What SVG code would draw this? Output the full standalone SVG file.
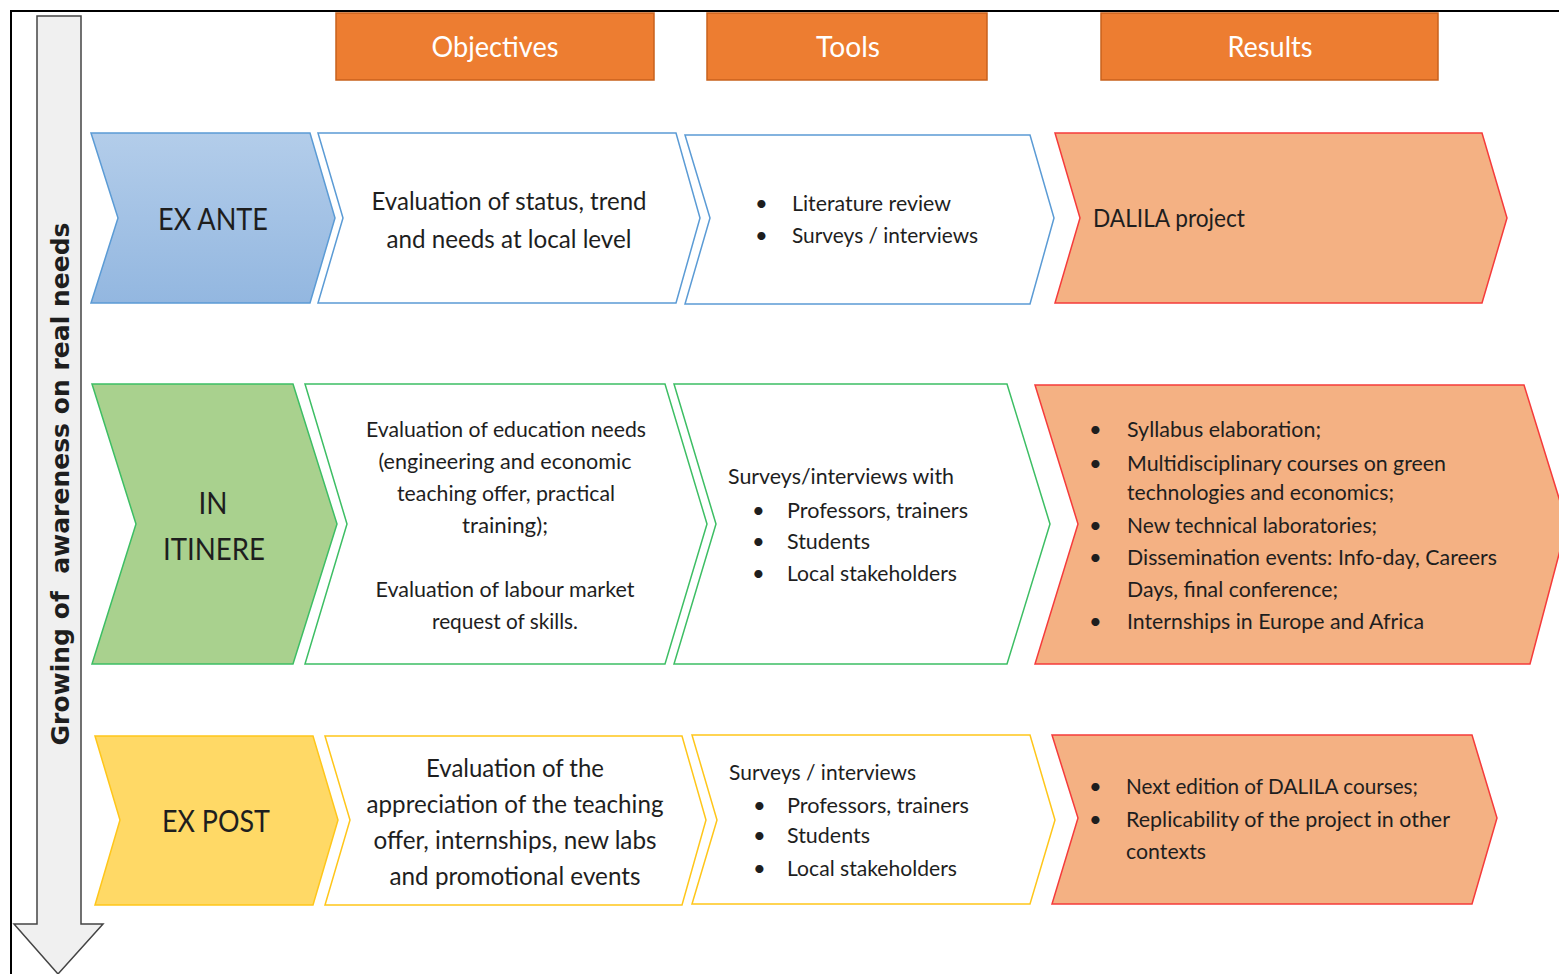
<svg xmlns="http://www.w3.org/2000/svg" width="1559" height="974" viewBox="0 0 1559 974">
<style>
.t{font-family:Lato,"Open Sans","Liberation Sans",sans-serif;fill:#1e1e1e}
.h{font-family:Lato,"Open Sans","Liberation Sans",sans-serif;fill:#ffffff;font-size:28px;text-anchor:middle}
.hd{fill:#ED7D31;stroke:#c8611c;stroke-width:1.5}
.lbl{font-size:31px;text-anchor:middle}
.obj{font-size:25px;text-anchor:middle}
.sm{font-size:22px}
.smc{font-size:22px;text-anchor:middle}
.res{fill:#F4B183;stroke:#F53B3B;stroke-width:1.5}
.wb{fill:#ffffff;stroke:#5B9BD5;stroke-width:1.5}
.wg{fill:#ffffff;stroke:#3DBE64;stroke-width:1.5}
.wy{fill:#ffffff;stroke:#FFC61A;stroke-width:1.5}
</style>
<defs>
<linearGradient id="gb" x1="0" y1="0" x2="0" y2="1"><stop offset="0" stop-color="#B3CDEA"/><stop offset="1" stop-color="#93B7E0"/></linearGradient>
</defs>
<rect x="0" y="0" width="1559" height="974" fill="#ffffff"/>
<rect x="11" y="11" width="1600" height="1000" fill="none" stroke="#000" stroke-width="2"/>

<g id="axis">
<path d="M37,16 L81,16 L81,924 L103,924 L58,974 L14,924 L37,924 Z" fill="#F0F0F0" stroke="#444" stroke-width="1.5"/>
<text transform="translate(69,484) rotate(-90)" text-anchor="middle" font-family="'DejaVu Sans','Liberation Sans',sans-serif" font-weight="bold" font-size="25" fill="#1e1e1e" textLength="523" lengthAdjust="spacingAndGlyphs" xml:space="preserve">Growing of  awareness on real needs</text>
</g>

<g id="hdr-objectives"><rect class="hd" x="336" y="13" width="318" height="67"/><text class="h" x="495" y="57" textLength="127" lengthAdjust="spacingAndGlyphs">Objectives</text></g>
<g id="hdr-tools"><rect class="hd" x="707" y="13" width="280" height="67"/><text class="h" x="848" y="57" textLength="64" lengthAdjust="spacingAndGlyphs">Tools</text></g>
<g id="hdr-results"><rect class="hd" x="1101" y="13" width="337" height="67"/><text class="h" x="1270" y="57" textLength="85" lengthAdjust="spacingAndGlyphs">Results</text></g>

<g id="connectors"></g>

<!-- Row 1 -->
<g id="exante">
<path d="M91,133 L310,133 L335,218 L310,303 L91,303 L118,218 Z" fill="url(#gb)" stroke="#5B9BD5" stroke-width="1.5"/>
<text class="t lbl" x="213" y="230" textLength="110" lengthAdjust="spacingAndGlyphs">EX ANTE</text>
</g>
<g id="exante-obj">
<path class="wb" d="M318,133 L676,133 L700,218 L676,303 L318,303 L343,218 Z"/>
<text class="t obj" x="509" y="210" textLength="275" lengthAdjust="spacingAndGlyphs">Evaluation of status, trend</text>
<text class="t obj" x="509" y="248" textLength="245" lengthAdjust="spacingAndGlyphs">and needs at local level</text>
</g>
<g id="exante-tools">
<path class="wb" d="M685,135 L1030,135 L1054,218 L1030,304 L685,304 L710,218 Z"/>
<text class="t sm" x="755" y="211">•</text><text class="t sm" x="792" y="211" textLength="159" lengthAdjust="spacingAndGlyphs">Literature review</text>
<text class="t sm" x="755" y="243">•</text><text class="t sm" x="792" y="243" textLength="186" lengthAdjust="spacingAndGlyphs">Surveys / interviews</text>
</g>
<g id="exante-res">
<path class="res" d="M1055,133 L1482,133 L1507,218 L1482,303 L1055,303 L1080,218 Z"/>
<text class="t" font-size="25" x="1093" y="227" textLength="152" lengthAdjust="spacingAndGlyphs">DALILA project</text>
</g>

<!-- Row 2 -->
<g id="initinere">
<path d="M92,384 L293,384 L337,524 L293,664 L92,664 L136,524 Z" fill="#A9D18E" stroke="#3DBE64" stroke-width="1.5"/>
<text class="t lbl" x="213" y="514" textLength="29" lengthAdjust="spacingAndGlyphs">IN</text>
<text class="t lbl" x="214" y="560" textLength="102" lengthAdjust="spacingAndGlyphs">ITINERE</text>
</g>
<g id="initinere-obj">
<path class="wg" d="M305,384 L665,384 L707,524 L665,664 L305,664 L347,524 Z"/>
<text class="t smc" x="506" y="437" textLength="280" lengthAdjust="spacingAndGlyphs">Evaluation of education needs</text>
<text class="t smc" x="505" y="469" textLength="253" lengthAdjust="spacingAndGlyphs">(engineering and economic</text>
<text class="t smc" x="506" y="501" textLength="218" lengthAdjust="spacingAndGlyphs">teaching offer, practical</text>
<text class="t smc" x="505" y="533" textLength="86" lengthAdjust="spacingAndGlyphs">training);</text>
<text class="t smc" x="505" y="597" textLength="259" lengthAdjust="spacingAndGlyphs">Evaluation of labour market</text>
<text class="t smc" x="505" y="629" textLength="146" lengthAdjust="spacingAndGlyphs">request of skills.</text>
</g>
<g id="initinere-tools">
<path class="wg" d="M674,384 L1007,384 L1050,524 L1007,664 L674,664 L716,524 Z"/>
<text class="t sm" x="728" y="484" textLength="226" lengthAdjust="spacingAndGlyphs">Surveys/interviews with</text>
<text class="t sm" x="752" y="518">•</text><text class="t sm" x="787" y="518" textLength="181" lengthAdjust="spacingAndGlyphs">Professors, trainers</text>
<text class="t sm" x="752" y="549">•</text><text class="t sm" x="787" y="549" textLength="83" lengthAdjust="spacingAndGlyphs">Students</text>
<text class="t sm" x="752" y="581">•</text><text class="t sm" x="787" y="581" textLength="170" lengthAdjust="spacingAndGlyphs">Local stakeholders</text>
</g>
<g id="initinere-res">
<path class="res" d="M1035,385 L1524,385 L1567,524 L1530,664 L1035,664 L1078,524 Z"/>
<text class="t sm" x="1089" y="437">•</text><text class="t sm" x="1127" y="437" textLength="194" lengthAdjust="spacingAndGlyphs">Syllabus elaboration;</text>
<text class="t sm" x="1089" y="471">•</text><text class="t sm" x="1127" y="471" textLength="319" lengthAdjust="spacingAndGlyphs">Multidisciplinary courses on green</text>
<text class="t sm" x="1127" y="500" textLength="267" lengthAdjust="spacingAndGlyphs">technologies and economics;</text>
<text class="t sm" x="1089" y="533">•</text><text class="t sm" x="1127" y="533" textLength="250" lengthAdjust="spacingAndGlyphs">New technical laboratories;</text>
<text class="t sm" x="1089" y="565">•</text><text class="t sm" x="1127" y="565" textLength="370" lengthAdjust="spacingAndGlyphs">Dissemination events: Info-day, Careers</text>
<text class="t sm" x="1127" y="597" textLength="211" lengthAdjust="spacingAndGlyphs">Days, final conference;</text>
<text class="t sm" x="1089" y="629">•</text><text class="t sm" x="1127" y="629" textLength="297" lengthAdjust="spacingAndGlyphs">Internships in Europe and Africa</text>
</g>

<!-- Row 3 -->
<g id="expost">
<path d="M95,736 L313,736 L338,820 L313,905 L95,905 L120,820 Z" fill="#FFD966" stroke="#FFC61A" stroke-width="1.5"/>
<text class="t lbl" x="216" y="832" textLength="108" lengthAdjust="spacingAndGlyphs">EX POST</text>
</g>
<g id="expost-obj">
<path class="wy" d="M325,736 L682,736 L706,820 L682,905 L325,905 L350,820 Z"/>
<text class="t obj" x="515" y="777" textLength="178" lengthAdjust="spacingAndGlyphs">Evaluation of the</text>
<text class="t obj" x="515" y="813" textLength="297" lengthAdjust="spacingAndGlyphs">appreciation of the teaching</text>
<text class="t obj" x="515" y="849" textLength="283" lengthAdjust="spacingAndGlyphs">offer, internships, new labs</text>
<text class="t obj" x="515" y="885" textLength="251" lengthAdjust="spacingAndGlyphs">and promotional events</text>
</g>
<g id="expost-tools">
<path class="wy" d="M692,735 L1030,735 L1055,820 L1030,904 L692,904 L717,820 Z"/>
<text class="t sm" x="729" y="780" textLength="187" lengthAdjust="spacingAndGlyphs">Surveys / interviews</text>
<text class="t sm" x="753" y="813">•</text><text class="t sm" x="787" y="813" textLength="182" lengthAdjust="spacingAndGlyphs">Professors, trainers</text>
<text class="t sm" x="753" y="843">•</text><text class="t sm" x="787" y="843" textLength="83" lengthAdjust="spacingAndGlyphs">Students</text>
<text class="t sm" x="753" y="876">•</text><text class="t sm" x="787" y="876" textLength="170" lengthAdjust="spacingAndGlyphs">Local stakeholders</text>
</g>
<g id="expost-res">
<path class="res" d="M1052,735 L1472,735 L1497,818 L1472,904 L1052,904 L1078,818 Z"/>
<text class="t sm" x="1089" y="794">•</text><text class="t sm" x="1126" y="794" textLength="292" lengthAdjust="spacingAndGlyphs">Next edition of DALILA courses;</text>
<text class="t sm" x="1089" y="827">•</text><text class="t sm" x="1126" y="827" textLength="324" lengthAdjust="spacingAndGlyphs">Replicability of the project in other</text>
<text class="t sm" x="1126" y="859" textLength="80" lengthAdjust="spacingAndGlyphs">contexts</text>
</g>
</svg>
